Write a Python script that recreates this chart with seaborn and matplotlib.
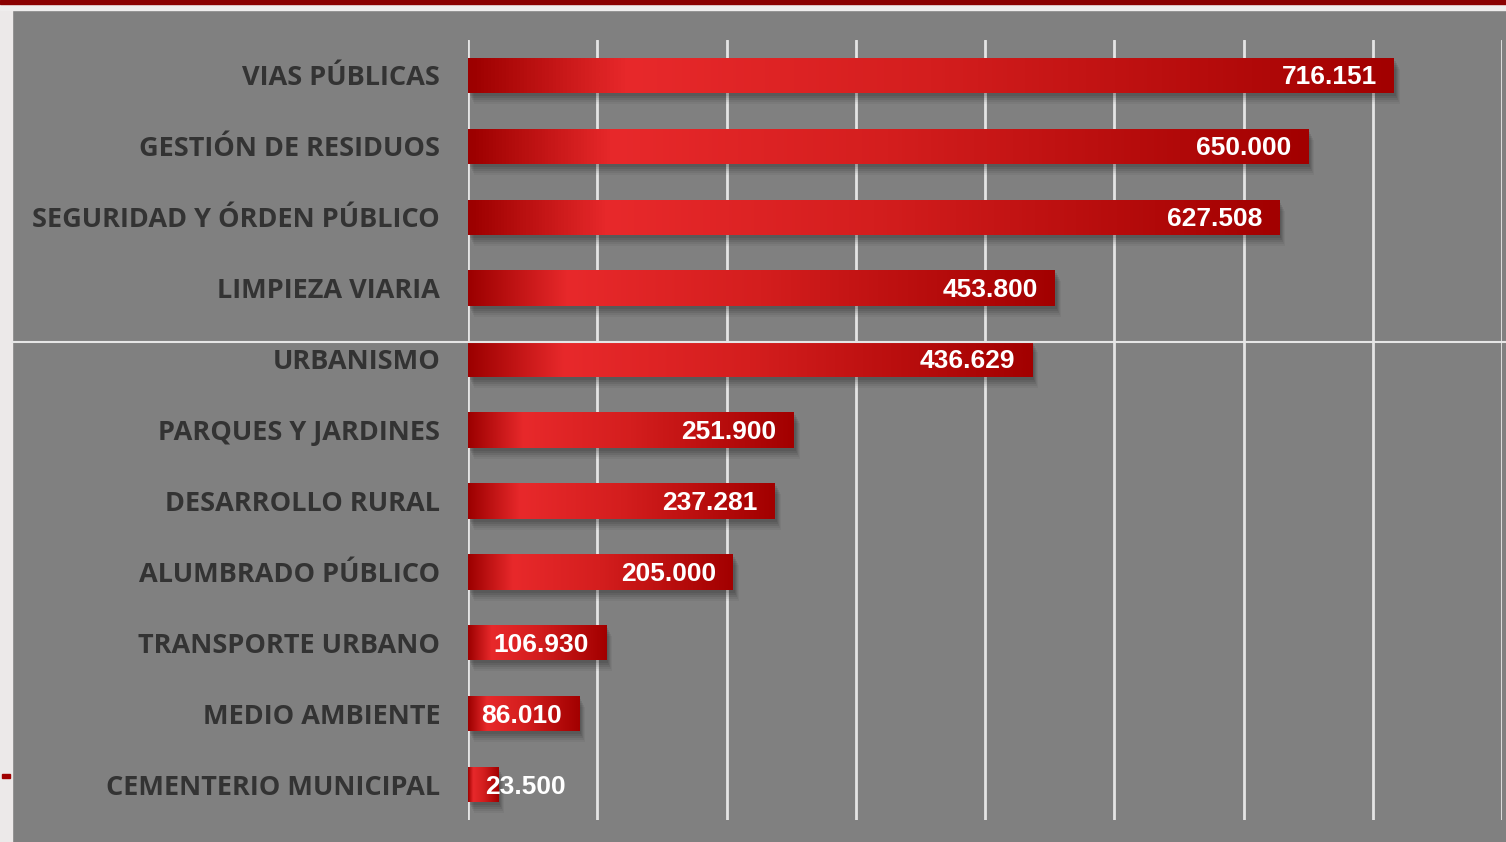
import numpy as np
import pandas as pd
import matplotlib
matplotlib.use("Agg")
import matplotlib.pyplot as plt
import seaborn as sns
from matplotlib.colors import LinearSegmentedColormap
from matplotlib.patches import Rectangle
from matplotlib.lines import Line2D
import matplotlib.transforms as mtransforms

categories = ["VIAS PÚBLICAS", "GESTIÓN DE RESIDUOS", "SEGURIDAD Y ÓRDEN PÚBLICO",
              "LIMPIEZA VIARIA", "URBANISMO", "PARQUES Y JARDINES", "DESARROLLO RURAL",
              "ALUMBRADO PÚBLICO", "TRANSPORTE URBANO", "MEDIO AMBIENTE", "CEMENTERIO MUNICIPAL"]
values = [716151, 650000, 627508, 453800, 436629, 251900, 237281, 205000, 106930, 86010, 23500]
value_labels = ["716.151", "650.000", "627.508", "453.800", "436.629", "251.900",
                "237.281", "205.000", "106.930", "86.010", "23.500"]
x_ticks = [0, 100000, 200000, 300000, 400000, 500000, 600000, 700000, 800000]

df = pd.DataFrame({"cat": categories, "val": values})

sns.set_theme(style="white")
W, H = 1506, 842
fig = plt.figure(figsize=(W / 100, H / 100), dpi=100)
fig.patch.set_facecolor("#808080")

# decorative slide frame
fig.add_artist(Rectangle((0, 0), 12 / W, 1, transform=fig.transFigure, color="#ece9e9", zorder=0))
fig.add_artist(Rectangle((0, 1 - 10 / H), 1, 10 / H, transform=fig.transFigure, color="#efeded", zorder=0))
fig.add_artist(Rectangle((0, 1 - 4 / H), 1, 4 / H, transform=fig.transFigure, color="#8a0000", zorder=1))
fig.add_artist(Rectangle((2 / W, 1 - 778 / H), 8 / W, 4 / H, transform=fig.transFigure, color="#a00000", zorder=1))

ax = fig.add_axes([468 / W, (H - 820) / H, (1502 - 468) / W, (820 - 40) / H])
ax.set_facecolor("#808080")

sns.barplot(data=df, y="cat", x="val", orient="h", ax=ax, color="#c00000",
            width=0.5, saturation=1, zorder=3)

ax.set_xlim(x_ticks[0], x_ticks[-1])
ax.set_xticks(x_ticks)
ax.set_xticklabels([])
ax.tick_params(axis="both", length=0)
ax.grid(False)
for xv in x_ticks:
    ax.axvline(xv, color="#e4e4e4", lw=2, zorder=1)
for s in ax.spines.values():
    s.set_visible(False)
ax.set_xlabel("")
ax.set_ylabel("")
ax.set_yticklabels(categories, fontsize=19.5, fontweight="bold", color="#333333",
                   fontfamily="Open Sans")
ax.tick_params(axis="y", pad=20)

cmap = LinearSegmentedColormap.from_list(
    "redgrad", [(0.0, "#9c0000"), (0.17, "#e8292b"), (0.5, "#d41e1e"), (1.0, "#a20000")])
grad = np.linspace(0, 1, 256).reshape(1, -1)

for p, lab, v in zip(ax.patches, value_labels, values):
    x0, y0, w, h = p.get_x(), p.get_y(), p.get_width(), p.get_height()
    # soft shadow
    for dx, dy, a in [(2, -3, 0.08), (3, -5, 0.08), (4, -7, 0.07), (5, -9, 0.06), (6, -11, 0.04)]:
        tr = mtransforms.offset_copy(ax.transData, fig=fig, x=dx, y=dy, units="dots")
        ax.add_patch(Rectangle((x0, y0), w, h, transform=tr, color="black", alpha=a, lw=0, zorder=2))
    p.set_alpha(0)
    im = ax.imshow(grad, cmap=cmap, aspect="auto", extent=(x0, x0 + w, y0 + h, y0),
                   zorder=4, interpolation="bicubic")
    im.set_clip_path(Rectangle((x0, y0), w, h, transform=ax.transData))
    yc = y0 + h / 2
    if v > 60000:
        ax.annotate(lab, xy=(v, yc), xytext=(-17, -2), textcoords="offset pixels",
                    ha="right", va="center", color="white", fontsize=19, fontweight="bold",
                    fontfamily="Liberation Sans", zorder=6)
    else:
        ax.annotate(lab, xy=(0, yc), xytext=(17, -2), textcoords="offset pixels",
                    ha="left", va="center", color="white", fontsize=19, fontweight="bold",
                    fontfamily="Liberation Sans", zorder=6)

ax.set_ylim(len(categories) - 0.5, -0.5)
ax.set_xlim(x_ticks[0], x_ticks[-1])

fig.add_artist(Line2D([12 / W, 1], [1 - 342 / H, 1 - 342 / H], transform=fig.transFigure,
                      color="#e6e6e6", lw=1.5, zorder=10))

fig.savefig("out.png", dpi=100, facecolor=fig.get_facecolor())
